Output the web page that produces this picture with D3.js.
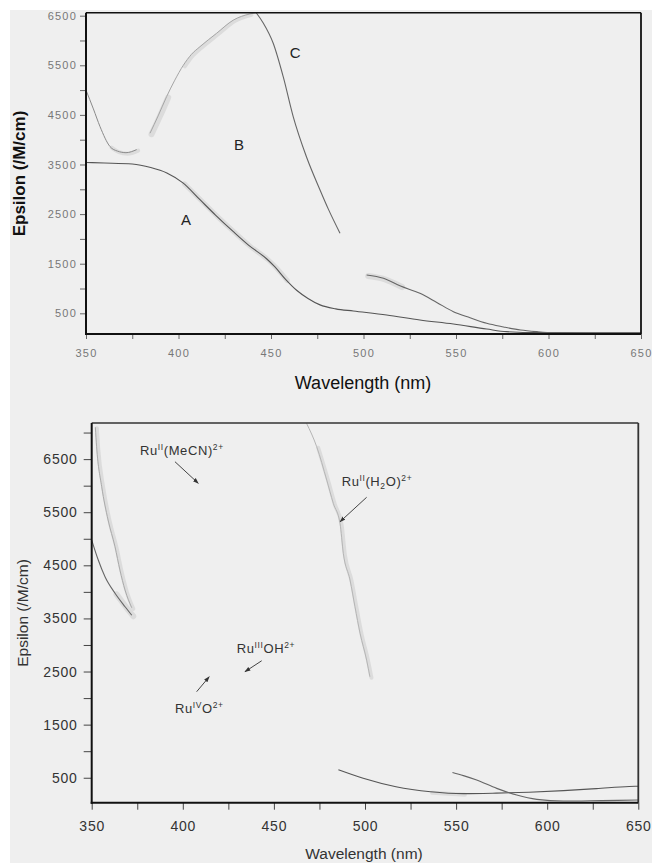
<!DOCTYPE html>
<html>
<head>
<meta charset="utf-8">
<script src="https://cdn.jsdelivr.net/npm/d3@7"></script>
<style>
  html, body { margin: 0; padding: 0; background: #ffffff; }
  #wrapper { width: 652px; height: 863px; }
  text { font-family: "Liberation Sans", Arial, sans-serif; }
</style>
</head>
<body>
<div id="wrapper"></div>
<script>
// ---- data (wavelength nm, epsilon M-1 cm-1) ----
const wavelengthTicks = [350, 400, 450, 500, 550, 600, 650]
const wavelengthMinor = [375, 425, 475, 525, 575, 625]
const epsilonTicks = [500, 1500, 2500, 3500, 4500, 5500, 6500]
const epsilonMinorTop = [1000, 2000, 3000, 4000, 5000, 6000]
const epsilonMinorBottom = [1000, 2000, 3000, 4000, 5000, 6000, 7000]

// top panel
const spectrumA = [
  [350, 3540], [360, 3530], [375, 3510], [385, 3440], [393.7, 3330], [402.4, 3130],
  [411.6, 2790], [420, 2480], [429.5, 2150], [438, 1870], [447.6, 1600], [452, 1440],
  [458, 1180], [464, 960], [470, 800], [476.5, 670], [485, 590], [494.5, 546],
  [512.5, 466], [530.5, 365], [548.6, 284], [566.6, 183], [577.4, 130], [595, 110], [650, 105]
]
const spectrumBDip = [
  [350, 5000], [354, 4620], [357.6, 4262], [363, 3860], [367, 3770], [371.6, 3738], [377.4, 3800]
]
const spectrumCRise = [
  [384.6, 4130], [389, 4480], [393.6, 4870], [398, 5200], [402.6, 5500], [407, 5720],
  [411.6, 5875], [420.6, 6145], [429.6, 6410], [438.6, 6535], [442, 6560]
]
const spectrumCFall = [
  [442, 6560], [445.8, 6353], [451.2, 5944], [456.6, 5270], [462, 4464], [469.2, 3650],
  [476.5, 2986], [481, 2600], [487.3, 2115]
]
const spectrumCTail = [
  [501.7, 1272], [510.8, 1205], [520, 1050], [530.5, 903], [539.6, 720], [548.6, 533],
  [557.6, 410], [566.6, 298], [575.7, 225], [584.9, 163], [593.8, 130], [602.8, 109],
  [625, 100], [650, 100]
]

// bottom panel
const leftDark = [
  [350, 4976], [353.6, 4600], [357.3, 4285], [362.8, 3973], [368.3, 3720], [372, 3560]
]
const leftFaint = [
  [352, 7100], [352.7, 6733], [355.5, 5980], [359, 5353], [362.8, 4850], [365.5, 4411],
  [368.3, 4035], [372, 3700]
]
const ruH2OSteep = [
  [467.9, 7175], [473.5, 6733], [479, 6106], [482.6, 5668], [486.3, 5290], [488.1, 4726],
  [491.8, 4223], [494.5, 3720], [497.3, 3219], [500.9, 2716], [502.7, 2402]
]
const ruH2OTail = [
  [485.4, 650], [499, 490], [517, 330], [536, 236], [554, 200], [572, 210], [590, 228],
  [609, 258], [627, 295], [645, 335], [650, 340]
]
const ruLowTail = [
  [548, 600], [554, 540], [561.3, 457], [572.3, 300], [583.3, 174], [594.3, 93],
  [608.8, 61], [630, 70], [650, 80]
]

const topLetters = [
  { label: "A", wl: 404, eps: 2381 },
  { label: "B", wl: 432.7, eps: 3893 },
  { label: "C", wl: 463, eps: 5750 }
]
const bottomNotes = [
  { parts: [["Ru"], ["II", 1], ["(MeCN)"], ["2+", 1]], wl: 376.5, eps: 6577, from: [395.7, 6451], to: [408.5, 6044] },
  { parts: [["Ru"], ["II", 1], ["(H"], ["2", -1], ["O)"], ["2+", 1]], wl: 487.2, eps: 5993, from: [500.9, 5781], to: [486.3, 5321] },
  { parts: [["Ru"], ["III", 1], ["OH"], ["2+", 1]], wl: 429.6, eps: 2849, from: [443.3, 2703], to: [434.1, 2496] },
  { parts: [["Ru"], ["IV", 1], ["O"], ["2+", 1]], wl: 395.7, eps: 1719, from: [407.6, 2120], to: [414.5, 2402] }
]

// ---- canvas ----
const width = 652
const height = 863
const wrapper = d3.select("#wrapper")
  .append("svg")
    .attr("width", width)
    .attr("height", height)

wrapper.append("rect")
  .attr("x", 10).attr("y", 10)
  .attr("width", width - 10).attr("height", height - 10)
  .attr("fill", "#efefef")

wrapper.append("defs").append("marker")
    .attr("id", "arrow")
    .attr("viewBox", "0 0 10 10")
    .attr("refX", 9).attr("refY", 5)
    .attr("markerWidth", 6).attr("markerHeight", 6)
    .attr("orient", "auto")
  .append("path")
    .attr("d", "M0,1.5 L10,5 L0,8.5 Z")
    .attr("fill", "#333")

function drawPanel(cfg) {
  const x = d3.scaleLinear().domain([350, 650]).range(cfg.xRange)
  const y = d3.scaleLinear().domain(cfg.yDomain).range(cfg.yRange)
  const g = wrapper.append("g")

  const line = d3.line()
    .x(d => x(d[0]))
    .y(d => y(d[1]))
    .curve(d3.curveMonotoneX)

  // scan shadows under some curve stretches
  cfg.shadows.forEach(([data, w0, w1, sw]) => {
    g.append("path")
      .datum(data.filter(d => d[0] >= w0 && d[0] <= w1))
      .attr("d", line)
      .attr("transform", "translate(1.5,1)")
      .attr("fill", "none")
      .attr("stroke", "#dcdcdc")
      .attr("stroke-width", sw)
      .attr("stroke-linecap", "round")
      .attr("stroke-linejoin", "round")
  })

  cfg.series.forEach(s => {
    g.append("path")
      .datum(s.data)
      .attr("d", line)
      .attr("fill", "none")
      .attr("stroke", s.color)
      .attr("stroke-width", s.width)
  })

  // axes
  const fmt = d3.format("d")
  const yAxis = g.append("g")
    .attr("transform", `translate(${cfg.xRange[0]},0)`)
    .call(d3.axisLeft(y).tickValues(epsilonTicks).tickFormat(fmt).tickSize(cfg.yTick).tickPadding(cfg.yPad))
  const yMinor = g.append("g")
    .attr("transform", `translate(${cfg.xRange[0]},0)`)
    .call(d3.axisLeft(y).tickValues(cfg.yMinor).tickSize(cfg.yTick).tickFormat(""))
  const xAxis = g.append("g")
    .attr("transform", `translate(0,${cfg.yRange[0]})`)
    .call(d3.axisBottom(x).tickValues(wavelengthTicks).tickFormat(fmt).tickSize(cfg.xTick).tickPadding(cfg.xPad))
  const xMinor = g.append("g")
    .attr("transform", `translate(0,${cfg.yRange[0]})`)
    .call(d3.axisBottom(x).tickValues(wavelengthMinor).tickSize(cfg.xTick).tickFormat(""))

  ;[yAxis, yMinor, xAxis, xMinor].forEach(a => {
    a.select(".domain").remove()
    a.selectAll(".tick line").attr("stroke", cfg.tickColor)
    a.selectAll("text")
      .style("font-family", "'Liberation Sans', Arial, sans-serif")
      .style("font-size", cfg.tickFont + "px")
      .style("letter-spacing", cfg.tickSpacing + "px")
      .attr("fill", cfg.tickText)
  })

  // frame
  const [x0, x1] = cfg.xRange
  const [yb, yt] = cfg.yRange
  g.append("line").attr("x1", x0).attr("x2", x1).attr("y1", yt).attr("y2", yt)
    .attr("stroke", cfg.frameColor).attr("stroke-width", 1.5)
  g.append("line").attr("x1", x1).attr("x2", x1).attr("y1", yt).attr("y2", yb)
    .attr("stroke", cfg.frameColor).attr("stroke-width", 1.8)
  g.append("line").attr("x1", x0).attr("x2", x0).attr("y1", yt).attr("y2", yb + 1)
    .attr("stroke", "#111").attr("stroke-width", 2)
  g.append("line").attr("x1", x0 - 1).attr("x2", x1).attr("y1", yb).attr("y2", yb)
    .attr("stroke", "#111").attr("stroke-width", 2)

  // titles
  g.append("text")
    .attr("x", cfg.xTitle[0]).attr("y", cfg.xTitle[1])
    .attr("text-anchor", "middle")
    .style("font-size", cfg.titleFont + "px")
    .attr("fill", cfg.titleColor)
    .text("Wavelength (nm)")
  g.append("text")
    .attr("transform", `translate(${cfg.yTitle[0]},${cfg.yTitle[1]}) rotate(-90)`)
    .attr("text-anchor", "middle")
    .style("font-size", cfg.yTitleFont + "px")
    .style("font-weight", cfg.yTitleWeight)
    .attr("fill", cfg.titleColor)
    .text("Epsilon (/M/cm)")

  return { g, x, y }
}

// ---- top panel ----
const topPanel = drawPanel({
  xRange: [86, 641],
  yDomain: [83, 6560],
  yRange: [334, 12.7],
  yMinor: epsilonMinorTop,
  yTick: 6, yPad: 3, xTick: 5, xPad: 10,
  tickFont: 11, tickSpacing: 1.2, tickText: "#777", tickColor: "#666",
  frameColor: "#111",
  xTitle: [363, 389], yTitle: [25, 173.5],
  titleFont: 18, yTitleFont: 17, yTitleWeight: "bold", titleColor: "#111",
  shadows: [
    [spectrumA, 402, 458, 5],
    [spectrumBDip, 362, 378, 4],
    [spectrumCRise, 384, 394, 6],
    [spectrumCRise, 402, 440, 4],
    [spectrumCTail, 500, 522, 6]
  ],
  series: [
    { data: spectrumA, color: "#555", width: 1.1 },
    { data: spectrumBDip, color: "#8a8a8a", width: 1 },
    { data: spectrumCRise, color: "#a5a5a5", width: 1 },
    { data: spectrumCFall, color: "#666", width: 1.1 },
    { data: spectrumCTail, color: "#666", width: 1.1 }
  ]
})

topPanel.g.selectAll(".letter")
  .data(topLetters)
  .join("text")
    .attr("class", "letter")
    .attr("x", d => topPanel.x(d.wl))
    .attr("y", d => topPanel.y(d.eps))
    .attr("dy", "0.36em")
    .attr("text-anchor", "middle")
    .style("font-size", "15px")
    .attr("fill", "#222")
    .text(d => d.label)

// ---- bottom panel ----
const bottomPanel = drawPanel({
  xRange: [91.7, 638.3],
  yDomain: [30, 7180],
  yRange: [802.7, 423],
  yMinor: epsilonMinorBottom,
  yTick: 8, yPad: 6, xTick: 7, xPad: 11,
  tickFont: 14, tickSpacing: 0.8, tickText: "#333", tickColor: "#444",
  frameColor: "#333",
  xTitle: [364, 859], yTitle: [28, 613],
  titleFont: 15.5, yTitleFont: 15.5, yTitleWeight: "normal", titleColor: "#333",
  shadows: [
    [leftDark, 360, 372, 6],
    [leftFaint, 352, 372, 4],
    [ruH2OSteep, 470, 503, 4],
    [ruH2OTail, 536, 560, 4]
  ],
  series: [
    { data: leftFaint, color: "#aaa", width: 1 },
    { data: leftDark, color: "#666", width: 1.1 },
    { data: ruH2OSteep, color: "#b5b5b5", width: 1 },
    { data: ruH2OTail, color: "#555", width: 1.1 },
    { data: ruLowTail, color: "#666", width: 1.1 }
  ]
})

const notes = bottomPanel.g.selectAll(".note")
  .data(bottomNotes)
  .join("g")
    .attr("class", "note")

notes.append("line")
  .attr("x1", d => bottomPanel.x(d.from[0]))
  .attr("y1", d => bottomPanel.y(d.from[1]))
  .attr("x2", d => bottomPanel.x(d.to[0]))
  .attr("y2", d => bottomPanel.y(d.to[1]))
  .attr("stroke", "#444")
  .attr("stroke-width", 1)
  .attr("marker-end", "url(#arrow)")

notes.append("text")
  .attr("x", d => bottomPanel.x(d.wl))
  .attr("y", d => bottomPanel.y(d.eps))
  .style("font-size", "13px")
  .style("letter-spacing", "0.6px")
  .attr("fill", "#333")
  .each(function(d) {
    const t = d3.select(this)
    let shift = 0
    d.parts.forEach(([str, pos]) => {
      const target = pos === 1 ? -5 : pos === -1 ? 3 : 0
      t.append("tspan")
        .attr("dy", target - shift)
        .style("font-size", pos ? "8.5px" : "13px")
        .text(str)
      shift = target
    })
  })
</script>
</body>
</html>
